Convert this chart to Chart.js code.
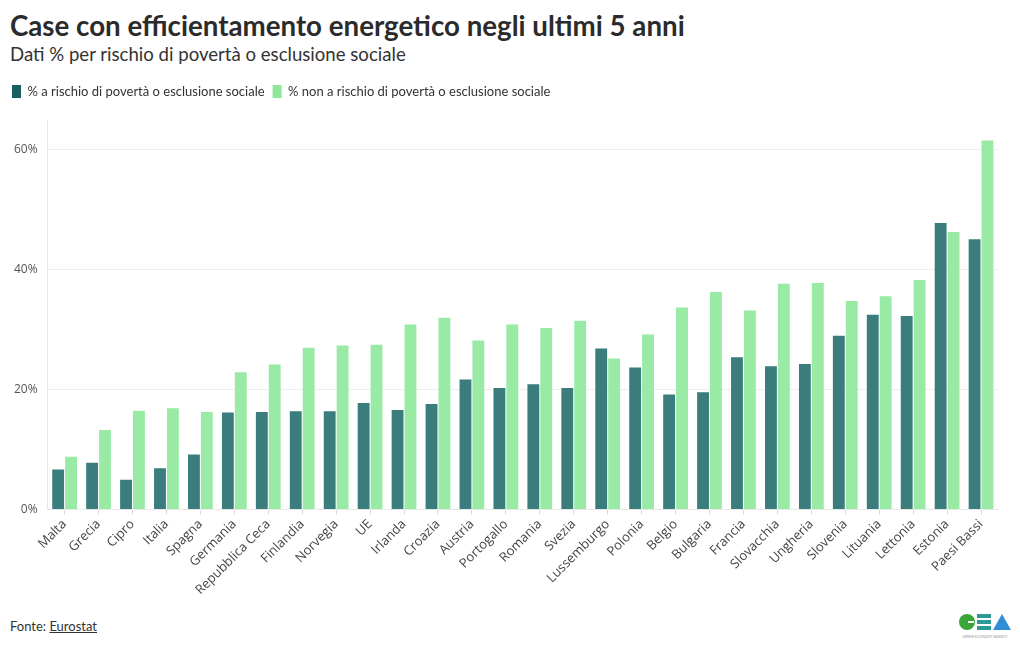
<!DOCTYPE html>
<html lang="it">
<head>
    <meta charset="UTF-8">
    <script src="https://cdn.jsdelivr.net/npm/chart.js@4.4.0/dist/chart.umd.min.js"></script>
    <title>Case con efficientamento energetico</title>
    <style>
        body { margin: 0; background: #fff; width: 1020px; height: 650px; position: relative; overflow: hidden; font-family: Lato, sans-serif; color: #333; }
        h1 { position: absolute; left: 10px; top: 9px; margin: 0; font-size: 27.7px; font-weight: 700; color: #2b2b2b; }
        h2 { position: absolute; left: 10px; top: 43px; margin: 0; font-size: 18.6px; font-weight: 400; color: #333; }
        #wrap { position: absolute; left: 0; top: 77px; width: 1020px; height: 523px; }
        .fonte { position: absolute; left: 10px; top: 618px; font-size: 13px; color: #333; }
        .fonte a { color: #333; }
        .logo { position: absolute; left: 957px; top: 612px; }
    </style>
</head>
<body>
    <h1>Case con efficientamento energetico negli ultimi 5 anni</h1>
    <h2>Dati % per rischio di povertà o esclusione sociale</h2>
    <div id="wrap"><canvas id="myChart"></canvas></div>
    <div class="fonte">Fonte: <a href="#">Eurostat</a></div>
    <svg class="logo" width="56" height="28" viewBox="0 0 56 28">
        <circle cx="10" cy="10" r="8" fill="#3aa63a"/>
        <rect x="11" y="9" width="6" height="2" fill="#fff"/>
        <rect x="20" y="2" width="14" height="4" fill="#2e9a96"/>
        <rect x="20" y="8" width="14" height="4" fill="#2e9a96"/>
        <rect x="20" y="14" width="14" height="4" fill="#2e9a96"/>
        <polygon points="36,18 45,2 54,18" fill="#2f8fd6"/>
        <text x="28" y="26" font-size="3.5" fill="#999" text-anchor="middle" font-family="Lato">GREEN ECONOMY AGENCY</text>
    </svg>

    <script>
        var paesi = ['Malta', 'Grecia', 'Cipro', 'Italia', 'Spagna', 'Germania', 'Repubblica Ceca', 'Finlandia',
            'Norvegia', 'UE', 'Irlanda', 'Croazia', 'Austria', 'Portogallo', 'Romania', 'Svezia', 'Lussemburgo',
            'Polonia', 'Belgio', 'Bulgaria', 'Francia', 'Slovacchia', 'Ungheria', 'Slovenia', 'Lituania',
            'Lettonia', 'Estonia', 'Paesi Bassi'];
        // % a rischio di povertà o esclusione sociale
        var aRischio = [6.7, 7.8, 5.0, 6.9, 9.2, 16.2, 16.3, 16.4, 16.4, 17.8, 16.6, 17.6, 21.7, 20.3, 20.9, 20.3,
            26.9, 23.7, 19.2, 19.6, 25.4, 23.9, 24.3, 29.0, 32.5, 32.3, 47.8, 45.1];
        // % non a rischio
        var nonRischio = [8.8, 13.3, 16.5, 16.9, 16.3, 22.9, 24.2, 27.0, 27.4, 27.5, 30.9, 32.0, 28.2, 30.9, 30.3,
            31.5, 25.2, 29.2, 33.7, 36.3, 33.2, 37.7, 37.8, 34.8, 35.6, 38.3, 46.3, 61.6];
        var yTicks = [0, 20, 40, 60];

        var coloreScuro = '#3b7d7d';
        var coloreChiaro = '#98eaa5';

        // spazio extra sotto la legenda
        var legendGap = {
            id: 'legendGap',
            beforeInit: function (chart) {
                var fitOrig = chart.legend.fit;
                chart.legend.fit = function () {
                    fitOrig.bind(chart.legend)();
                    this.height += 12;
                };
            }
        };

        var ctx = document.getElementById('myChart').getContext('2d');
        var chart = new Chart(ctx, {
            type: 'bar',
            data: {
                labels: paesi,
                datasets: [{
                    label: '% a rischio di povertà o esclusione sociale',
                    data: aRischio,
                    backgroundColor: coloreScuro
                }, {
                    label: '% non a rischio di povertà o esclusione sociale',
                    data: nonRischio,
                    backgroundColor: coloreChiaro
                }]
            },
            plugins: [legendGap],
            options: {
                responsive: true,
                maintainAspectRatio: false,
                animation: false,
                categoryPercentage: 0.76,
                barPercentage: 0.92,
                layout: { padding: { left: 4, right: 22, top: 0, bottom: 0 } },
                plugins: {
                    tooltip: { enabled: false },
                    legend: {
                        position: 'top',
                        align: 'start',
                        labels: {
                            font: { family: 'Lato', size: 13 },
                            color: '#333',
                            boxWidth: 9,
                            boxHeight: 13,
                            padding: 8,
                            generateLabels: function (c) {
                                var cols = ['#16605f', '#8fe79b'];
                                return c.data.datasets.map(function (ds, i) {
                                    return { text: ds.label, fillStyle: cols[i], strokeStyle: cols[i], lineWidth: 0, datasetIndex: i, fontColor: '#333' };
                                });
                            }
                        }
                    }
                },
                scales: {
                    x: {
                        grid: { display: true, drawOnChartArea: false, offset: false, tickLength: 5, color: '#dddddd' },
                        border: { display: true, color: '#e8e8e8' },
                        ticks: {
                            autoSkip: false, maxRotation: 45, minRotation: 45,
                            font: { family: 'Open Sans', size: 13 }, color: '#444', padding: 2
                        }
                    },
                    y: {
                        min: 0,
                        max: 65,
                        afterBuildTicks: function (axis) {
                            axis.ticks = yTicks.map(function (v) { return { value: v }; });
                        },
                        grid: { color: '#eeeeee', drawTicks: false },
                        border: { display: true, color: '#e8e8e8' },
                        ticks: {
                            font: { family: 'Open Sans', size: 12 }, color: '#555', padding: 10,
                            callback: function (v) { return v + '%'; }
                        }
                    }
                }
            }
        });
    </script>
</body>
</html>
